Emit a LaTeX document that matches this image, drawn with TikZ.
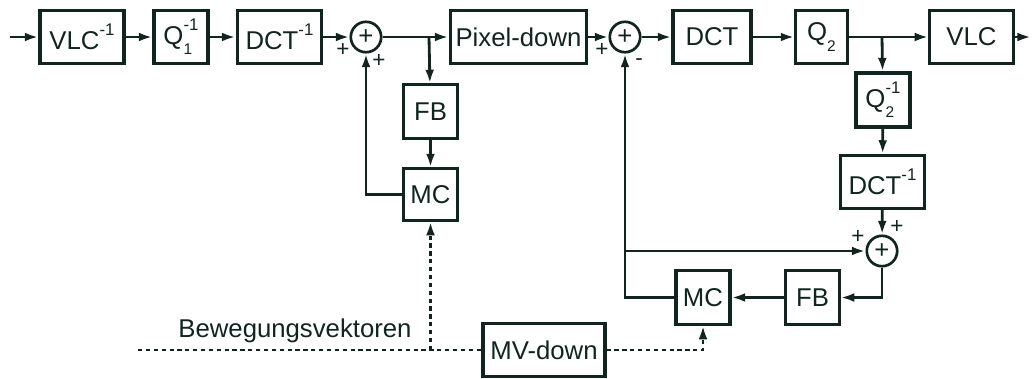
\documentclass[tikz,border=0pt]{standalone}
\usepackage{fontspec}
\setmainfont{Liberation Sans}
\usetikzlibrary{arrows.meta}
\definecolor{ink}{RGB}{18,36,32}
\newcommand{\sups}[1]{\raisebox{0.52em}{\fontsize{12}{12}\selectfont#1}}
\newcommand{\subs}[1]{\raisebox{-0.42em}{\fontsize{11}{11}\selectfont#1}}
\newcommand{\minusone}{\sups{-1}}
\newcommand{\qsub}[1]{Q\makebox[0pt][l]{\subs{#1}}}

\begin{document}
\begin{tikzpicture}[
    x=0.025cm, y=-0.025cm,
    font=\fontsize{18.3}{20}\selectfont,
    box/.style={
        draw=ink,
        line width=2.2pt,
        align=center,
        minimum height=1.33cm,
        inner sep=1pt,
        text=ink
    },
    sum/.style={draw=ink, circle, line width=1.9pt, minimum size=0.76cm,
        inner sep=0pt, text=ink},
    sign/.style={text=ink, font=\fontsize{16}{16}\selectfont, inner sep=0pt},
    arrow/.style={-{Latex[length=0.34cm, width=0.22cm]}, line width=2pt, draw=ink},
    mv/.style={line width=2pt, draw=ink, dash pattern=on 3pt off 2.6pt}
]
\useasboundingbox (0,0) rectangle (1034,378);

% upper chain
\coordinate (in) at (10,37);
\node[box, minimum width=2.1cm] (vlcinv) at (82,37) {VLC\minusone};
\node[box, minimum width=1.35cm] (qinvA) at (181,37) {\qsub{1}\minusone};
\node[box, minimum width=2.12cm] (dctinv) at (279.5,37) {DCT\minusone};
\node[sum] (sumA) at (366,37) {+};
\coordinate (brA) at (429,37);
\node[box, minimum width=3.42cm] (pixdown) at (518.5,37) {Pixel-down};
\node[sum] (sumB) at (625,37) {+};
\node[box, minimum width=1.95cm] (dct) at (712,37) {DCT};
\node[box, minimum width=1.28cm] (q) at (821.5,37) {\qsub{2}\phantom{\subs{2}}};
\coordinate (brB) at (882,37);
\node[box, minimum width=2.08cm] (vlc) at (971.5,37) {VLC};
\coordinate (out) at (1031,37);

% decoder loop
\node[box, minimum width=1.33cm] (fbA) at (430.5,111.5) {FB};
\node[box, minimum width=1.33cm, minimum height=1.28cm] (mcA) at (430.5,194.5) {MC};

% encoder loop
\node[box, minimum width=1.35cm, minimum height=1.35cm] (qinvB) at (883,100) {\qsub{2}\minusone};
\node[box, minimum width=2.12cm] (dctinvB) at (882.5,182) {DCT\minusone};
\node[sum] (sumC) at (882,251) {+};
\node[box, minimum width=1.33cm] (fbB) at (812.5,297.5) {FB};
\node[box, minimum width=1.35cm] (mcB) at (703,297.5) {MC};

% motion vectors
\node[box, minimum width=3.05cm] (mvdown) at (544,350) {MV-down};
\coordinate (mvin) at (138,350);
\node[text=ink, inner sep=0pt] (bv) at (295,331) {Bewegungsvektoren};

% signs
\node[sign] at (343,50) {+};
\node[sign] at (379,61) {+};
\node[sign] at (602,50) {+};
\node[sign] at (639,62) {-};
\node[sign] at (858,237) {+};
\node[sign] at (897,227) {+};

\draw[arrow] (in) -- (vlcinv);
\draw[arrow] (vlcinv) -- (qinvA);
\draw[arrow] (qinvA) -- (dctinv);
\draw[arrow] (dctinv) -- (sumA);
\draw[arrow] (sumA) -- (pixdown);
\draw[arrow] (brA) -- (fbA);
\draw[arrow] (fbA) -- (mcA);
\draw[arrow] (mcA.west) -| (sumA.south);
\draw[arrow] (pixdown) -- (sumB);
\draw[arrow] (sumB) -- (dct);
\draw[arrow] (dct) -- (q);
\draw[arrow] (q) -- (vlc);
\draw[arrow] (vlc) -- (out);
\draw[arrow] (brB) -- (qinvB);
\draw[arrow] (qinvB) -- (dctinvB);
\draw[arrow] (dctinvB) -- (sumC);
\draw[arrow] (sumC.south) |- (fbB.east);
\draw[arrow] (fbB) -- (mcB);
\draw[arrow] (mcB.west) -| (sumB.south);
\draw[arrow] (sumB.south |- sumC) -- (sumC.west);

\draw[mv] (mvin) -- (mvdown.west);
\draw[mv, -{Latex[length=0.34cm, width=0.22cm]}] (mcA.south |- mvdown) -- (mcA.south);
\draw[mv, -{Latex[length=0.34cm, width=0.22cm]}] (mvdown.east) -| (mcB.south);
\end{tikzpicture}
\end{document}
